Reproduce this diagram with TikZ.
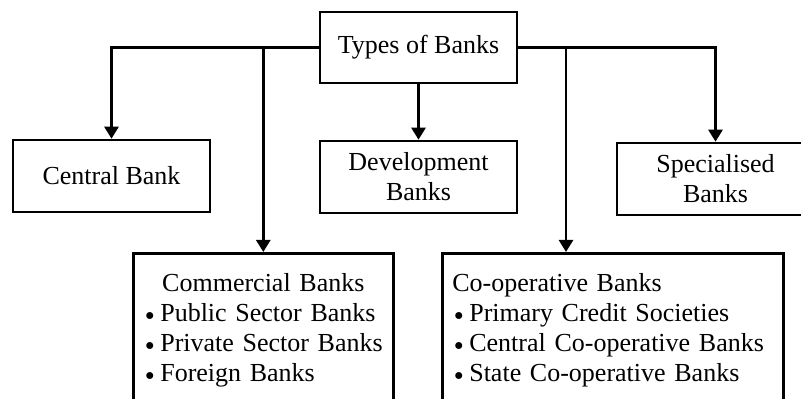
\documentclass[tikz,border=0pt]{standalone}
\usepackage{fontspec}
\setmainfont{Liberation Serif}
\usetikzlibrary{arrows.meta}
\newcommand{\bankitem}{\hspace*{1pt}\raisebox{0.6pt}{\scalebox{0.75}{$\bullet$}}\hspace{3pt}}

\begin{document}
\begin{tikzpicture}[x=0.5pt, y=-0.5pt, line width=1.3pt,
  bankbox/.style={draw, inner sep=0pt, minimum width=98.5pt, minimum height=36pt, align=center, font=\fontsize{13}{15}\selectfont},
  listbox/.style={draw, anchor=north west, inner xsep=5pt, inner ysep=10pt, align=left, font=\fontsize{13}{15}\selectfont},
  link/.style={-{Triangle[length=6pt,width=7pt]}}]
\useasboundingbox (0,0) rectangle (801,399);
% boxes
\node[bankbox, minimum height=35.5pt] (types) at (418.5,47.5) {Types of Banks};
\node[bankbox] (central) at (111.5,176) {Central Bank};
\node[bankbox] (devel) at (418.5,177) {Development\\Banks};
\node[bankbox] (special) at (715.5,179) {Specialised\\Banks};
\node[listbox, text width=120pt] (commercial) at (132,252) {\makebox[\hsize]{Commercial Banks}\\
  \bankitem Public Sector Banks\\
  \bankitem Private Sector Banks\\
  \bankitem Foreign Banks\\[2pt]};
\node[listbox, text width=160.5pt] (coop) at (441,252) {Co-operative Banks\\
  \bankitem Primary Credit Societies\\
  \bankitem Central Co-operative Banks\\
  \bankitem State Co-operative Banks\\[2pt]};
\coordinate (coopin) at ([xshift=62.5pt]coop.north west);
% connectors
\draw[link] (types.west) -| (central.north);
\draw[link] (types.west -| commercial.north) -- (commercial.north);
\draw[link] (types.south) -- (devel.north);
\draw[link] (types.east) -| (special.north);
\draw[link] (types.east -| coopin) -- (coopin);
\end{tikzpicture}
\end{document}
